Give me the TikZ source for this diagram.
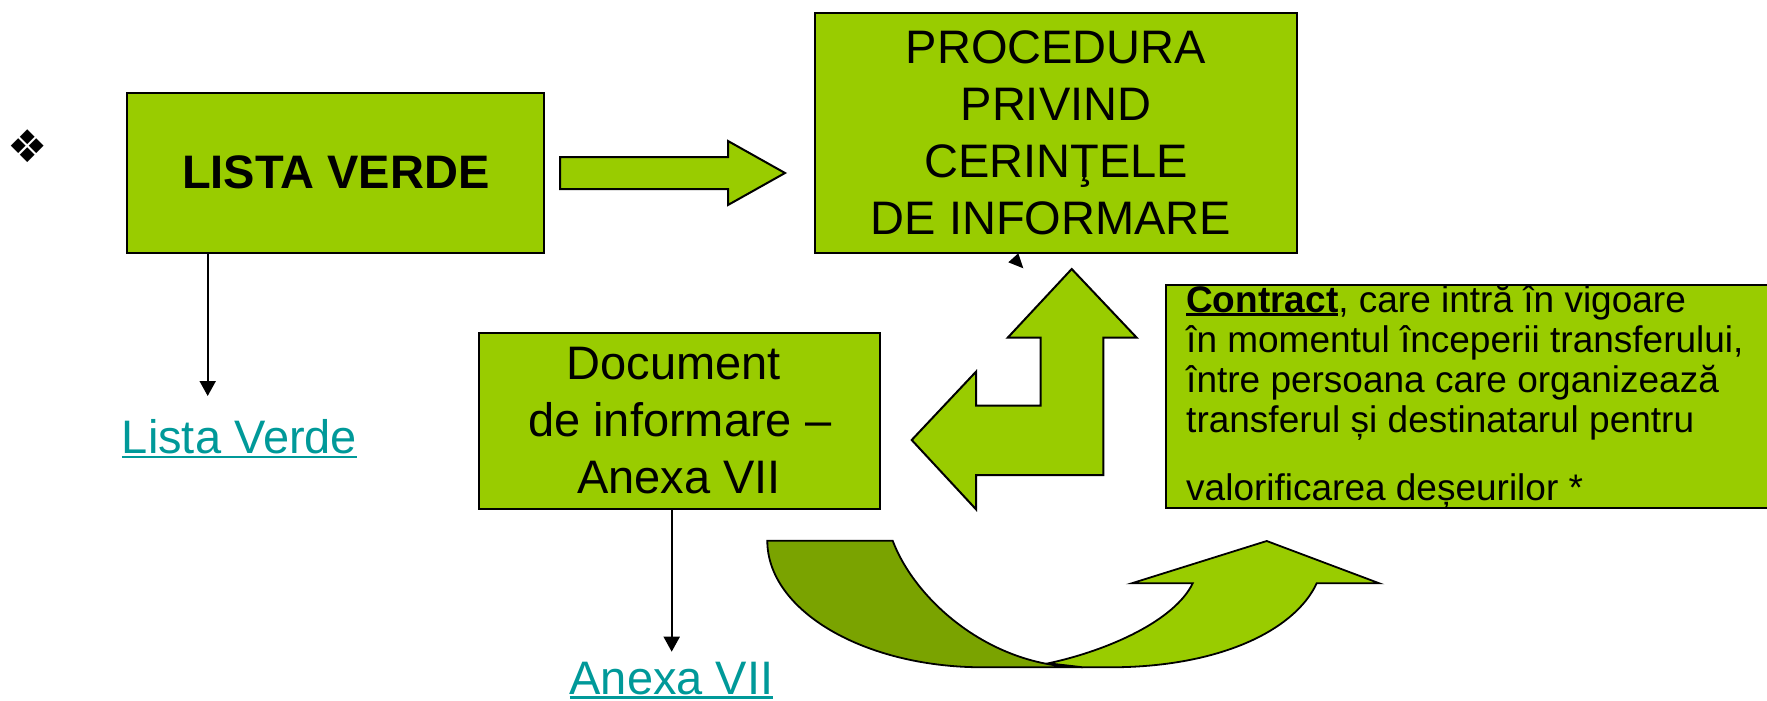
\documentclass[tikz,border=0pt]{standalone}
\usepackage{fontspec}
\setmainfont{Liberation Sans}
\newfontfamily\dejavu{DejaVu Sans}
\usetikzlibrary{arrows.meta}
\definecolor{boxgreen}{RGB}{153,204,0}
\definecolor{darkgreen}{RGB}{122,163,0}
\definecolor{linkteal}{RGB}{0,153,153}
\newcommand\myul[2][-5pt]{\setbox0\hbox{#2}\rlap{\rule[#1]{\wd0}{2.5pt}}\box0}
\tikzset{
  gbox/.style={draw=black, line width=2pt, fill=boxgreen, font=\fontsize{47}{57}\selectfont, inner sep=0pt},
  blockarrow/.style={draw=black, line width=2pt, fill=boxgreen, line join=miter},
  curvearrow/.style={draw=black, line width=1.8pt, line join=miter},
  conn/.style={draw=black, line width=2pt, -{Triangle[width=16pt,length=15pt]}},
  linktext/.style={text=linkteal, font=\fontsize{47}{57}\selectfont, inner sep=0pt, anchor=base}
}
\begin{document}
\begin{tikzpicture}[x=1pt,y=-1pt]
\useasboundingbox (0,0) rectangle (1767,701);

% bullet
\node[inner sep=0pt, font=\dejavu\fontsize{45}{45}\selectfont] (bullet) at (28,146) {❖};

% boxes
\node[gbox, minimum width=417pt, minimum height=160pt] (lista) at (335.8,172.7) {\bfseries LISTA VERDE};
\node[gbox, minimum width=482pt, minimum height=240pt, align=center] (proc) at (1056,133)
  {PROCEDURA\\PRIVIND\\CERINŢELE\hspace*{32pt}\\DE INFORMARE\hspace*{10pt}};
\node[gbox, minimum width=400.7pt, minimum height=176.3pt, align=center] (doc) at (679.7,420.8)
  {Document\hspace*{12pt}\\de informare –\hspace*{26pt}\\Anexa VII\hspace*{1pt}};
\node[gbox, minimum width=604pt, minimum height=223pt] (contract) at (1468,396.5) {};
\node[anchor=north west, align=left, inner sep=0pt, font=\fontsize{37}{40}\selectfont] (ctext) at (1186,280)
  {\rule{0pt}{32pt}\myul[-3.5pt]{\bfseries Contract}, care intră în vigoare\\
   în momentul începerii transferului,\\
   între persoana care organizează\\
   transferul și destinatarul pentru\\[28pt]
   valorificarea deșeurilor *};

% block arrow right
\draw[blockarrow] (560,157) -- (728,157) -- (728,141) -- (785,173) -- (728,205) -- (728,189) -- (560,189) -- cycle;

% bent arrow (up and left)
\draw[blockarrow] (1071.7,269) -- (1136.7,337.7) -- (1103.3,337.7) -- (1103.3,475) -- (976,475)
  -- (976,509.3) -- (911.7,440) -- (976,371.7) -- (976,405.7) -- (1040.7,405.7)
  -- (1040.7,337.7) -- (1007.7,337.7) -- cycle;

% small arrowhead under procedure box
\fill[black] (1008.3,262.3) -- (1018.3,253.3) -- (1023.3,268.3) -- cycle;

% curved U-turn arrow
\draw[curvearrow, fill=darkgreen] (767.3,540.7) -- (892.7,540.7)
  .. controls (915,600) and (990,667.3) .. (1083,667.3) -- (983,667.3)
  .. controls (863.9,667.3) and (767.3,610.6) .. cycle;
\draw[curvearrow, fill=boxgreen] (1048.3,663.3)
  .. controls (1110,650) and (1175,620) .. (1192.7,583.3) -- (1131.7,583.3) -- (1266.7,541)
  -- (1379.3,583.3) -- (1316.7,583.3)
  .. controls (1295,630) and (1220,667.3) .. (1110,667.3) -- (1083,667.3) -- cycle;

% connectors and link labels
\coordinate (lvtip) at (207.7,396);
\draw[conn] (lista.south -| lvtip) -- (lvtip);
\node[linktext] (lvtext) at (239.5,453) {\myul{Lista Verde}};
\coordinate (axtip) at (671.7,651.7);
\draw[conn] (doc.south -| axtip) -- (axtip);
\node[linktext] (axtext) at (671.5,694) {\myul[-4.5pt]{Anexa VII}};
\end{tikzpicture}
\end{document}
